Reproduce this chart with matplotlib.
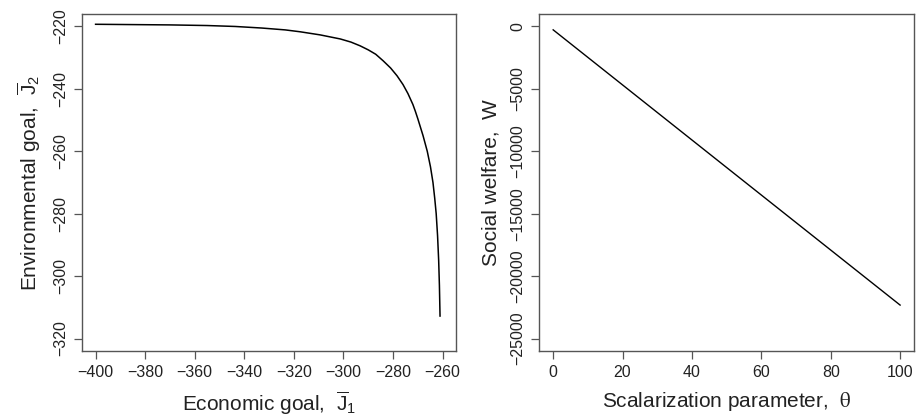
import matplotlib
matplotlib.use("Agg")
import matplotlib.pyplot as plt

# Pareto front: economic goal J1 vs environmental goal J2
j1 = [-400, -385, -370, -355, -343.7, -333, -323.5, -317.5, -309.4, -301.3,
      -297, -293.3, -290, -287, -284, -281, -278.4, -276, -274, -272,
      -271, -270, -267.9, -266.2, -264.9, -263.9, -263.2, -262.6, -262.05,
      -261.6, -261.3, -261.05]
j2 = [-219.3, -219.4, -219.5, -219.7, -220.0, -220.5, -221.1, -221.7, -222.7, -224.0,
      -225.0, -226.2, -227.5, -228.9, -231.0, -233.3, -235.8, -238.6, -241.5, -245.0,
      -247.2, -249.6, -255.0, -260.0, -265.0, -270.0, -275.0, -280.0, -287.0,
      -295.0, -303.0, -312.8]

# social welfare vs scalarization parameter
theta = [0, 50, 100]
welfare = [-270, -11300, -22320]

plt.rcParams['font.family'] = ['Liberation Sans', 'DejaVu Sans']
plt.rcParams['mathtext.fontset'] = 'custom'
plt.rcParams['mathtext.rm'] = 'Liberation Sans'
plt.rcParams['mathtext.it'] = 'Liberation Sans:italic'

box_col = '#555555'
txt_col = '#222222'

fig = plt.figure(figsize=(9.17, 4.15), dpi=100)
ax1 = fig.add_axes([0.0891, 0.1542, 0.4082, 0.8121])
ax2 = fig.add_axes([0.5881, 0.1542, 0.4086, 0.8121])

ax1.plot(j1, j2, color='black', lw=1.1)
ax1.set_xlim(-405.6, -254.6)
ax1.set_ylim(-324, -216)
ax1.set_xticks(range(-400, -259, 20))
ax1.set_yticks(range(-320, -219, 20))
ax1.set_xlabel(r'Economic goal,  $\overline{\mathrm{J}}_1$', fontsize=15, color=txt_col, labelpad=7)
ax1.set_ylabel(r'Environmental goal,  $\overline{\mathrm{J}}_2$', fontsize=15, color=txt_col, labelpad=7)

ax2.plot(theta, welfare, color='black', lw=1.0)
ax2.set_xlim(-4, 104)
ax2.set_ylim(-26000, 1000)
ax2.set_xticks(range(0, 101, 20))
ax2.set_yticks(range(-25000, 1, 5000))
ax2.set_xlabel(r'Scalarization parameter,  $\mathrm{\theta}$', fontsize=15, color=txt_col,
               labelpad=7, math_fontfamily='stix')
ax2.set_ylabel('Social welfare,  W', fontsize=15, color=txt_col, labelpad=7)

for ax in (ax1, ax2):
    for s in ax.spines.values():
        s.set_color(box_col)
        s.set_linewidth(1.0)
    ax.tick_params(direction='out', length=6, width=0.9, color=box_col,
                   labelsize=11.5, labelcolor=txt_col, pad=4)
    ax.set_yticklabels([t.get_text() for t in ax.get_yticklabels()], rotation=90, va='center')

fig.savefig('out.png', dpi=100)
